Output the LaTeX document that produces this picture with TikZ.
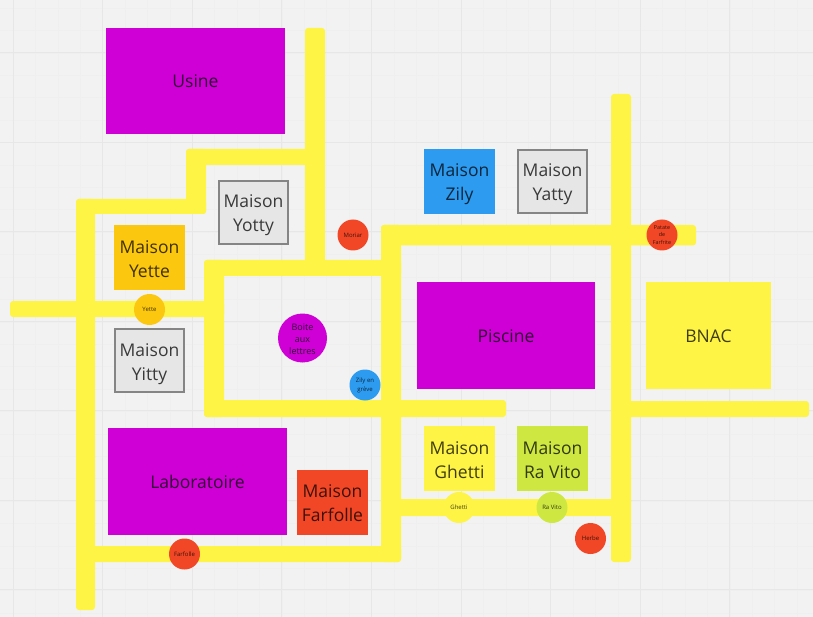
\documentclass[tikz,border=0pt]{standalone}
\usepackage{fontspec}
\setmainfont{Open Sans}
\definecolor{paper}{HTML}{F2F2F2}
\definecolor{gridmajor}{HTML}{E7E7E7}
\definecolor{gridminor}{HTML}{EFEFEF}
\definecolor{roadyellow}{HTML}{FEF445}
\definecolor{violet}{HTML}{CE00D6}
\definecolor{redorange}{HTML}{F24726}
\definecolor{amber}{HTML}{FCC70F}
\definecolor{skyblue}{HTML}{2D9BF0}
\definecolor{lime}{HTML}{CEE741}
\definecolor{greybox}{HTML}{E6E6E6}
\definecolor{greyline}{HTML}{858585}
\newcommand{\drop}[1]{\rule{0pt}{#1}}

\begin{document}
\begin{tikzpicture}[x=1pt,y=-1pt]
\tikzstyle{road}=[fill=roadyellow, rounded corners=3pt]
\tikzstyle{lot}=[rectangle, align=center, inner sep=0pt, text=black, text opacity=.75, font=\fontsize{17.5}{24}\selectfont]
\tikzstyle{house}=[lot, minimum width=71pt, minimum height=65pt]
\tikzstyle{greyhouse}=[house, fill=greybox, draw=greyline, line width=1.8pt, minimum width=69.2pt, minimum height=63.2pt]
\tikzstyle{block}=[lot, fill=violet, minimum width=178.5pt, minimum height=106.5pt]
\tikzstyle{spot}=[circle, align=center, inner sep=0pt, minimum size=31pt, text=black, text opacity=.75, font=\fontsize{6}{9}\selectfont]

\useasboundingbox (0,0) rectangle (813,617);

% Background and grid
\fill[paper] (0,0) rectangle (813,617);
\foreach \k in {1,...,36} {
  \draw[gridminor,line width=.6pt] ({-9.4+22.4*\k},0) -- ({-9.4+22.4*\k},617);
}
\foreach \k in {0,...,27} {
  \draw[gridminor,line width=.6pt] (0,{8.2+22.4*\k}) -- (813,{8.2+22.4*\k});
}
\foreach \k in {0,...,8} {
  \draw[gridmajor,line width=1pt] ({13+89.6*\k},0) -- ({13+89.6*\k},617);
}
\foreach \k in {0,...,6} {
  \draw[gridmajor,line width=1pt] (0,{53+89.4*\k}) -- (813,{53+89.4*\k});
}

% Roads: left side
\fill[road] (305,28) rectangle (325,270);
\fill[road] (186,149) rectangle (315,165);
\fill[road] (186,149) rectangle (206,214);
\fill[road] (76,199) rectangle (206,214);
\fill[road] (76,199) rectangle (95,610);
\fill[road] (10,301) rectangle (224,317);

% Roads: central block
\fill[road] (204,260) rectangle (224,417);
\fill[road] (204,260) rectangle (401,276);
\fill[road] (204,400) rectangle (506,417);
\fill[road] (381,225) rectangle (401,562);
\fill[road] (85,546) rectangle (401,562);

% Roads: right side
\fill[road] (381,225) rectangle (696,245.5);
\fill[road] (611,94) rectangle (631,562);
\fill[road] (621,401) rectangle (809,417);
\fill[road] (391,499) rectangle (621,516);

% Large buildings
\node[block] (usine) at (195.5,81) {Usine};
\node[block] (laboratoire) at (197.5,481.5) {Laboratoire};
\node[block] (piscine) at (506,335.5) {\drop{15pt}Piscine};
\node[lot,fill=roadyellow,minimum width=125pt,minimum height=106.5pt] (bnac) at (708.5,335.5) {\drop{15pt}BNAC};

% Houses
\node[house,fill=amber] (yette) at (149.5,258) {\drop{15pt}Maison\\Yette};
\node[greyhouse] (yotty) at (253.5,212.5) {\drop{19pt}Maison\\Yotty};
\node[greyhouse] (yitty) at (149.5,360.5) {\drop{21pt}Maison\\Yitty};
\node[house,fill=redorange] (farfolle) at (332.5,502) {\drop{15pt}Maison\\Farfolle};
\node[house,fill=skyblue] (zily) at (459.5,181.5) {\drop{19pt}Maison\\Zily};
\node[greyhouse] (yatty) at (552.5,181.5) {\drop{19pt}Maison\\Yatty};
\node[house,fill=roadyellow] (ghetti) at (459.5,458.5) {\drop{17pt}Maison\\Ghetti};
\node[house,fill=lime] (ravito) at (552.5,458.5) {\drop{17pt}Maison\\Ra Vito};

% Spots
\node[spot,fill=amber] (spotyette) at (149.5,309.5) {Yette};
\node[spot,fill=redorange] (moriar) at (353,235) {Moriar};
\node[spot,fill=violet,minimum size=49pt,font=\fontsize{9}{12.3}\selectfont] (boite) at (302.5,338) {\drop{9pt}Boite\\aux\\lettres};
\node[spot,fill=skyblue] (greve) at (365,385) {Zily en\\grève};
\node[spot,fill=redorange] (spotfarfolle) at (184.5,554) {Farfolle};
\node[spot,fill=roadyellow] (spotghetti) at (459,507.5) {Ghetti};
\node[spot,fill=lime] (spotravito) at (552,507.5) {Ra Vito};
\node[spot,fill=redorange] (herbe) at (590.5,538.5) {Herbe};
\node[spot,fill=redorange,font=\fontsize{5.4}{7.5}\selectfont] (patate) at (662,235) {Patate\\de\\Farfrite};

\end{tikzpicture}
\end{document}
